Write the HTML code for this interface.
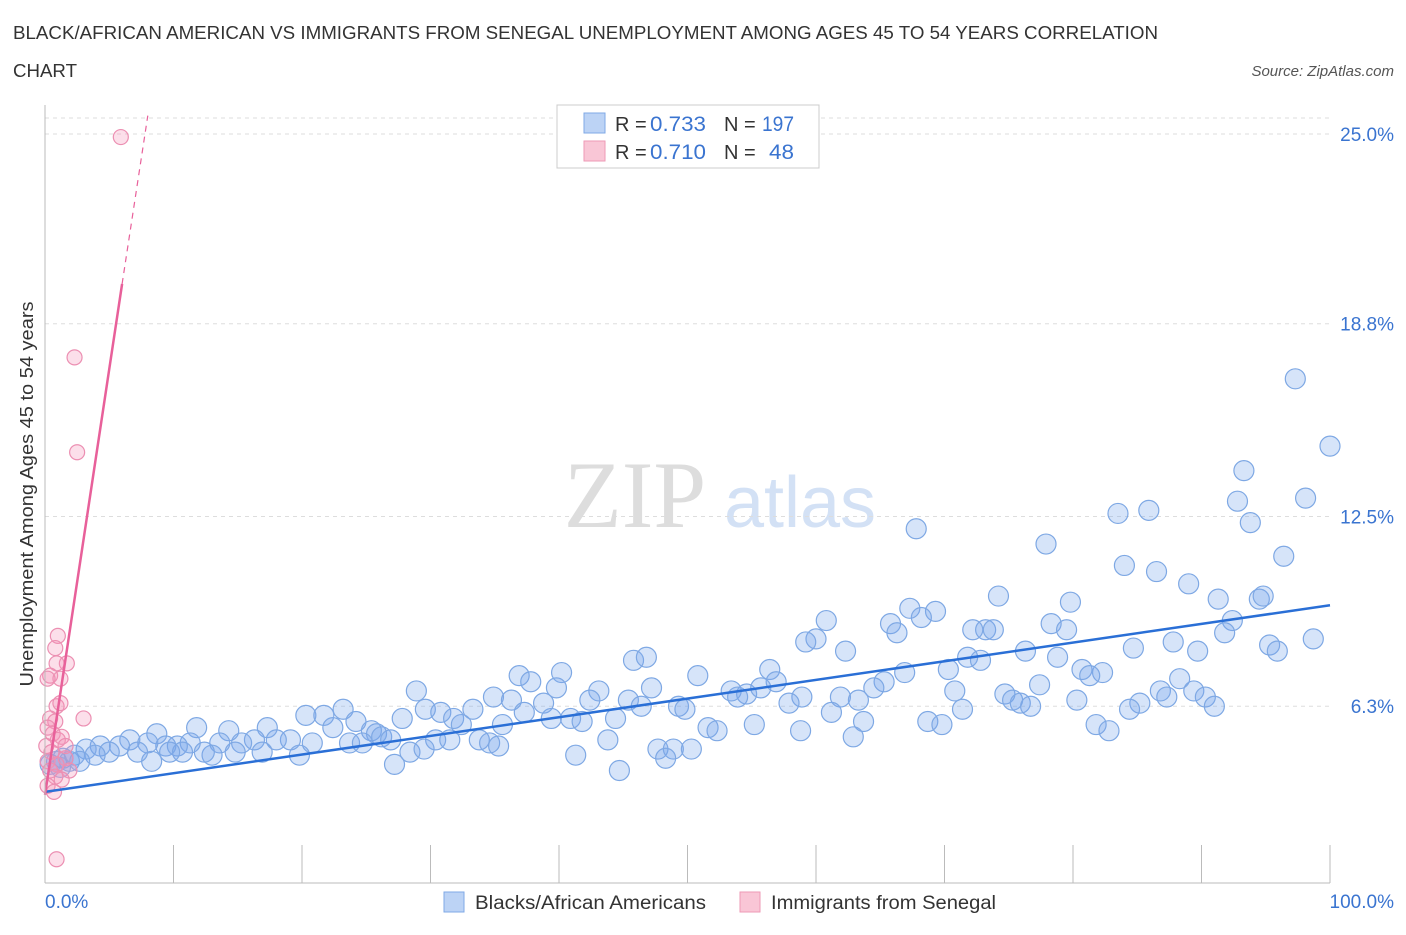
<!DOCTYPE html>
<html><head><meta charset="utf-8"><style>
body{margin:0;background:#fff;font-family:"Liberation Sans",sans-serif;}
</style></head><body>
<svg id="c" width="1406" height="930" xmlns="http://www.w3.org/2000/svg">
<text x="13" y="39" font-size="18" fill="#333" textLength="1145" lengthAdjust="spacingAndGlyphs">BLACK/AFRICAN AMERICAN VS IMMIGRANTS FROM SENEGAL UNEMPLOYMENT AMONG AGES 45 TO 54 YEARS CORRELATION</text>
<text x="13" y="77" font-size="18" fill="#333" textLength="64" lengthAdjust="spacingAndGlyphs">CHART</text>
<text x="1394" y="76" font-size="15" fill="#555" font-style="italic" text-anchor="end">Source: ZipAtlas.com</text>
<text x="635" y="527" font-size="95" fill="#ddd" font-family="Liberation Serif,serif" text-anchor="middle">ZIP</text>
<text x="800" y="527" font-size="72" fill="#d3e1f5" text-anchor="middle">atlas</text>
<g id="grid"></g><g id="pts"></g><g id="lines"></g>
<line x1="45" y1="883" x2="1330" y2="883" stroke="#bbb"/>
<line x1="45" y1="105" x2="45" y2="883" stroke="#bbb"/>
<text x="33" y="494" font-size="18" fill="#333" text-anchor="middle" textLength="385" lengthAdjust="spacingAndGlyphs" transform="rotate(-90 33 494)">Unemployment Among Ages 45 to 54 years</text>
<text x="45" y="908" font-size="19" fill="#3a74d0">0.0%</text>
<text x="1394" y="908" font-size="19" fill="#3a74d0" text-anchor="end">100.0%</text>
<g>
<rect x="557" y="105" width="262" height="63" fill="#fff" stroke="#ccc"/>
<rect x="584" y="113" width="21" height="20" fill="#bcd3f5" stroke="#7fa8e6"/>
<rect x="584" y="141" width="21" height="20" fill="#f9c6d6" stroke="#ee9ab6"/>
<text x="615" y="131" font-size="20" fill="#333">R =</text>
<text x="650" y="131" font-size="21" fill="#3a74d0" textLength="56" lengthAdjust="spacingAndGlyphs">0.733</text>
<text x="724" y="131" font-size="20" fill="#333">N =</text>
<text x="762" y="131" font-size="21" fill="#3a74d0" textLength="32" lengthAdjust="spacingAndGlyphs">197</text>
<text x="615" y="159" font-size="20" fill="#333">R =</text>
<text x="650" y="159" font-size="21" fill="#3a74d0" textLength="56" lengthAdjust="spacingAndGlyphs">0.710</text>
<text x="724" y="159" font-size="20" fill="#333">N =</text>
<text x="769" y="159" font-size="21" fill="#3a74d0" textLength="25" lengthAdjust="spacingAndGlyphs">48</text>
</g>
<g>
<rect x="444" y="892" width="20" height="20" fill="#bcd3f5" stroke="#7fa8e6"/>
<text x="475" y="909" font-size="19" fill="#333" textLength="231" lengthAdjust="spacingAndGlyphs">Blacks/African Americans</text>
<rect x="740" y="892" width="20" height="20" fill="#f9c6d6" stroke="#ee9ab6"/>
<text x="771" y="909" font-size="19" fill="#333" textLength="225" lengthAdjust="spacingAndGlyphs">Immigrants from Senegal</text>
</g>
</svg>
<script>
const yTicks=[25.0,18.8,12.5,6.3];
const yTickLabels=["25.0%","18.8%","12.5%","6.3%"];
const blueX=[97.3,100,93.3,98.1,92.8,85.9,83.5,93.8,67.8,77.9,96.4,84,86.5,89,74.2,91.3,94.5,94.8,79.8,67.3,69.3,68.2,60.8,78.3,92.4,65.8,73.2,72.2,73.8,79.5,66.3,91.8,60,59.2,98.7,87.8,95.3,95.9,84.7,89.7,62.3,76.3,78.8,71.8,72.8,45.8,46.8,56.4,80.7,82.3,70.3,81.3,66.9,36.9,40.2,50.8,37.8,88.3,77.4,65.3,56.9,64.5,39.8,47.2,43.1,28.9,86.8,89.4,53.4,54.6,55.7,74.7,70.8,34.9,36.3,42.4,45.4,53.9,58.9,61.9,87.3,90.3,80.3,75.3,75.9,63.3,76.7,85.2,91,84.4,49.3,49.8,46.4,57.9,71.4,23.2,33.3,29.6,30.8,27.8,38.8,37.3,20.3,21.7,24.2,39.4,40.9,41.8,44.4,31.8,32.4,35.6,22.4,25.4,25.8,26.2,26.9,17.3,14.3,11.8,8.7,51.6,52.3,55.2,58.8,61.2,63.7,68.7,69.8,81.8,82.8,62.9,43.8,30.4,31.5,33.8,34.6,35.3,23.7,24.7,20.8,19.1,18,16.3,15.3,13.6,11.3,10.3,9.4,8,6.6,5.8,4.3,3.2,47.7,48.9,50.3,28.4,29.5,41.3,48.3,27.2,44.7,19.8,16.9,14.8,13,12.4,10.7,9.7,8.3,7.2,5,3.9,2.3,1.4,0.9,1.9,2.7,1.2,0.4];
const blueY=[17.0,14.8,14.0,13.1,13.0,12.7,12.6,12.3,12.1,11.6,11.2,10.9,10.7,10.3,9.9,9.8,9.8,9.9,9.7,9.5,9.4,9.2,9.1,9.0,9.1,9.0,8.8,8.8,8.8,8.8,8.7,8.7,8.5,8.4,8.5,8.4,8.3,8.1,8.2,8.1,8.1,8.1,7.9,7.9,7.8,7.8,7.9,7.5,7.5,7.4,7.5,7.3,7.4,7.3,7.4,7.3,7.1,7.2,7.0,7.1,7.1,6.9,6.9,6.9,6.8,6.8,6.8,6.8,6.8,6.7,6.9,6.7,6.8,6.6,6.5,6.5,6.5,6.6,6.6,6.6,6.6,6.6,6.5,6.5,6.4,6.5,6.3,6.4,6.3,6.2,6.3,6.2,6.3,6.4,6.2,6.2,6.2,6.2,6.1,5.9,6.4,6.1,6.0,6.0,5.8,5.9,5.9,5.8,5.9,5.9,5.7,5.7,5.6,5.5,5.4,5.3,5.2,5.6,5.5,5.6,5.4,5.6,5.5,5.7,5.5,6.1,5.8,5.8,5.7,5.7,5.5,5.3,5.2,5.2,5.2,5.2,5.1,5.0,5.1,5.1,5.1,5.2,5.2,5.2,5.1,5.1,5.1,5.0,5.0,5.1,5.2,5.0,5.0,4.9,4.9,4.9,4.9,4.8,4.9,4.7,4.6,4.4,4.2,4.7,4.8,4.8,4.7,4.8,4.8,4.8,4.5,4.8,4.8,4.7,4.7,4.6,4.5,4.5,4.5,4.3,4.4];
const pinkX=[5.9,2.3,2.5,1.0,0.8,1.7,0.9,0.4,1.2,0.2,0.9,3,0.4,0.8,0.2,0.6,1,0.1,1.3,0.5,1.6,0.2,0.9,1.9,0.4,0.8,1.3,0.2,0.7,0.9,1.2,1.6];
const pinkY=[24.9,17.7,14.6,8.6,8.2,7.7,7.7,7.3,7.2,7.2,6.3,5.9,5.9,5.8,5.6,5.4,5.2,5.0,5.3,4.8,4.6,4.5,4.4,4.2,4.2,4.0,3.9,3.7,3.5,1.3,6.4,5.0];
const blueTrend=[[0,3.5],[100,9.6]];
const pinkTrendSolid=[[0,3.4],[6.0,20.1]];
const pinkTrendDash=[[6.0,20.1],[8.0,25.6]];
const NS="http://www.w3.org/2000/svg";
const xs=v=>45+v*12.85, ys=v=>134+(25-v)*30.6;
function mk(tag,attrs,parent){const e=document.createElementNS(NS,tag);for(const k in attrs)e.setAttribute(k,attrs[k]);document.getElementById(parent).appendChild(e);return e;}
yTicks.forEach((t,i)=>{
 const l=mk('line',{x1:45,x2:1330,y1:ys(t),y2:ys(t),stroke:'#ddd','stroke-dasharray':'4,4'},'grid');
 
 
 const tx=mk('text',{x:1394,y:ys(t)+7,'font-size':19,fill:'#3a74d0','text-anchor':'end'},'grid');
 tx.textContent=yTickLabels[i];
 
 
});
const tl=mk('line',{x1:45,x2:1330,y1:118,y2:118,stroke:'#ddd','stroke-dasharray':'4,4'},'grid');


for(let i=1;i<=10;i++){const t=mk('line',{x1:xs(i*10),x2:xs(i*10),y1:845,y2:883,stroke:'#bbb'},'grid');
 
 }
blueX.forEach((x,i)=>{const c=mk('circle',{cx:xs(x),cy:ys(blueY[i]),r:10,fill:'rgba(120,165,235,0.3)',stroke:'#7ea8e4','stroke-width':1.2},'pts');
 
 });
pinkX.forEach((x,i)=>{const c=mk('circle',{cx:xs(x),cy:ys(pinkY[i]),r:7.5,fill:'rgba(244,150,185,0.3)',stroke:'#ec8fb2','stroke-width':1.2},'pts');
 
 });
const b=mk('line',{x1:xs(blueTrend[0][0]),y1:ys(blueTrend[0][1]),x2:xs(blueTrend[1][0]),y2:ys(blueTrend[1][1]),stroke:'#2a6fd6','stroke-width':2.5},'lines');


const p=mk('line',{x1:xs(pinkTrendSolid[0][0]),y1:ys(pinkTrendSolid[0][1]),x2:xs(pinkTrendSolid[1][0]),y2:ys(pinkTrendSolid[1][1]),stroke:'#e8609a','stroke-width':2.5},'lines');


const pd=mk('line',{x1:xs(pinkTrendDash[0][0]),y1:ys(pinkTrendDash[0][1]),x2:xs(pinkTrendDash[1][0]),y2:ys(pinkTrendDash[1][1]),stroke:'#e8609a','stroke-width':1.2,'stroke-dasharray':'6,5'},'lines');


</script>
</body></html>
